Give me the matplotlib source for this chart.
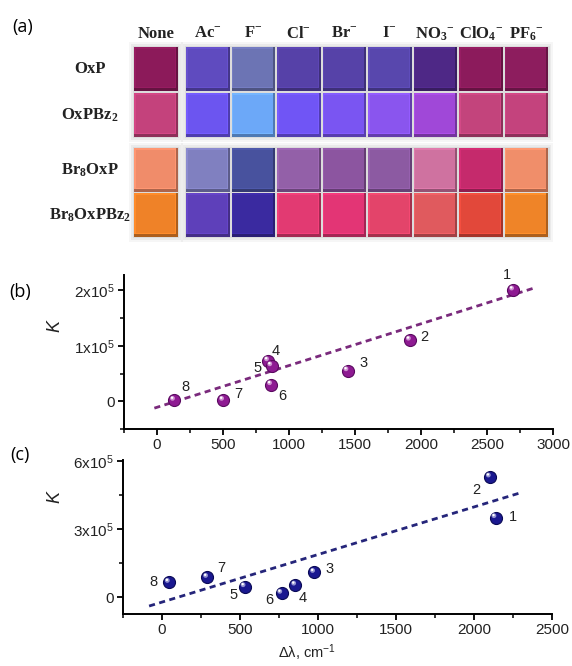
import numpy as np
import matplotlib
matplotlib.use("Agg")
import matplotlib.pyplot as plt
from matplotlib.patches import Rectangle
from matplotlib.ticker import MultipleLocator, FixedLocator
import matplotlib.transforms as mtransforms
import matplotlib.colors as mcolors

plt.rcParams['font.family'] = ['Liberation Sans', 'DejaVu Sans']
plt.rcParams['mathtext.fontset'] = 'custom'
plt.rcParams['mathtext.rm'] = 'Liberation Sans'
plt.rcParams['mathtext.it'] = 'Liberation Sans:italic'
plt.rcParams['mathtext.bf'] = 'Liberation Serif:bold'

# (a) colour table
anions = ["None", r"Ac$^\mathbf{-}$", r"F$^\mathbf{-}$", r"Cl$^\mathbf{-}$", r"Br$^\mathbf{-}$",
          r"I$^\mathbf{-}$", r"NO$_\mathbf{3}$$^\mathbf{-}$", r"ClO$_\mathbf{4}$$^\mathbf{-}$",
          r"PF$_\mathbf{6}$$^\mathbf{-}$"]
compounds = ["OxP", r"OxPBz$_\mathbf{2}$", r"Br$_\mathbf{8}$OxP", r"Br$_\mathbf{8}$OxPBz$_\mathbf{2}$"]
cell_colors = [
    ["#8C1A5A", "#5F4BBF", "#6C74B4", "#5641A8", "#5642A8", "#5847AD", "#4E2886", "#8C1B5C", "#8D1D5E"],
    ["#C4427C", "#6C55F0", "#6CA8F8", "#7055F5", "#7A55F2", "#8A55EE", "#A048D8", "#C3447C", "#C4437D"],
    ["#F08C6A", "#8080C0", "#48529E", "#9360A8", "#8C55A0", "#8C5AA2", "#CF72A0", "#C52A6C", "#F08E6A"],
    ["#EF8228", "#5E40BA", "#3A2AA0", "#E23A72", "#E33575", "#E3446A", "#E05A5E", "#E2483A", "#EF8428"],
]

# (b) OxPBz2
b_dl = [2700, 1918, 1445, 843, 868, 866, 503, 131]
b_K = [2.0e5, 1.10e5, 0.55e5, 0.73e5, 0.64e5, 0.30e5, 0.02e5, 0.02e5]
b_fit_x = [-20, 2862]
b_fit_y = [-0.12e5, 2.04e5]
b_lab_off = [(-6, 15), (14, 3), (16, 8), (7, 10), (-14, -2), (11, -11), (15, 6), (11, 13)]

# (c) Br8OxPBz2
c_dl = [2138, 2102, 977, 856, 532, 767, 292, 47]
c_K = [3.51e5, 5.30e5, 1.10e5, 0.54e5, 0.47e5, 0.18e5, 0.88e5, 0.66e5]
c_fit_x = [-81, 2298]
c_fit_y = [-0.38e5, 4.61e5]
c_lab_off = [(17, 1), (-14, -13), (15, 3), (7, -13), (-11, -8), (-12, -7), (14, 9), (-16, 0)]
point_labels = ["1", "2", "3", "4", "5", "6", "7", "8"]

W, H = 572, 666
fig = plt.figure(figsize=(W / 100, H / 100), dpi=100)

# background axes in pixel coordinates for panel (a)
bg = fig.add_axes([0, 0, 1, 1], zorder=0)
bg.set_xlim(0, W)
bg.set_ylim(H, 0)
bg.axis('off')

col_left = [134, 186, 231.5, 277, 322.5, 368, 413.5, 459, 504.5]
row_top = [47, 93, 148, 193]
cw, ch = 43.5, 43.5

# soft shadows behind the blocks
for (x0, x1) in [(col_left[0], col_left[0] + cw), (col_left[1], col_left[-1] + cw)]:
    for (y0, y1) in [(row_top[0], row_top[1] + ch), (row_top[2], row_top[3] + ch)]:
        for k, a in [(5, 0.05), (3, 0.07), (1.5, 0.09)]:
            bg.add_patch(Rectangle((x0 - k, y0 - k), x1 - x0 + 2 * k, y1 - y0 + 2 * k,
                                   facecolor='#555555', edgecolor='none', alpha=a))

for i, row in enumerate(cell_colors):
    for j, c in enumerate(row):
        base = np.array(mcolors.to_rgb(c))
        x, y = col_left[j], row_top[i]
        bg.add_patch(Rectangle((x, y), cw, ch, facecolor=base * 0.72, edgecolor='none'))
        bg.add_patch(Rectangle((x, y), cw - 2, ch - 2.5,
                               facecolor=np.clip(base * 1.08, 0, 1), edgecolor='none'))
        bg.add_patch(Rectangle((x + 1.5, y + 1.5), cw - 4, ch - 5, facecolor=base, edgecolor='none'))

for j, lab in enumerate(anions):
    bg.text(col_left[j] + cw / 2, 34, lab, ha='center', va='center', fontsize=12,
            family='Liberation Serif', weight='bold', color='#222222')
for i, lab in enumerate(compounds):
    bg.text(90, row_top[i] + ch / 2, lab, ha='center', va='center', fontsize=12,
            family='Liberation Serif', weight='bold', color='#222222')

bg.text(12, 27, "(a)", fontsize=13, ha='left', va='center', family='Open Sans')
bg.text(9, 292, "(b)", fontsize=13, ha='left', va='center', family='Open Sans')
bg.text(10, 455, "(c)", fontsize=13, ha='left', va='center', family='Open Sans')


def sphere_plot(ax, xs, ys, color, dark, light, fit_x, fit_y, line_color, offsets):
    ax.plot(fit_x, fit_y, ls=(0, (2.2, 1.6)), lw=2, color=line_color, zorder=2)
    ax.scatter(xs, ys, s=75, color=color, edgecolor=dark, linewidth=0.8, zorder=3)
    hl = mtransforms.offset_copy(ax.transData, fig=fig, x=-1.8, y=2.0, units='dots')
    ax.scatter(xs, ys, s=12, color=light, edgecolor='none', alpha=0.85, transform=hl, zorder=4)
    hl2 = mtransforms.offset_copy(ax.transData, fig=fig, x=-2.2, y=2.6, units='dots')
    ax.scatter(xs, ys, s=3, color='white', edgecolor='none', transform=hl2, zorder=5)
    for x, y, t, off in zip(xs, ys, point_labels, offsets):
        ax.annotate(t, (x, y), xytext=off, textcoords='offset pixels', ha='center',
                    va='center', fontsize=10.5, color='#222222')


def style_axes(ax):
    for s in ['top', 'right']:
        ax.spines[s].set_visible(False)
    for s in ['left', 'bottom']:
        ax.spines[s].set_linewidth(1.4)
    ax.tick_params(which='major', direction='out', length=4.5, width=1.3, labelsize=11,
                   pad=2, colors='black', labelcolor='#222222')
    ax.tick_params(which='minor', direction='out', length=2.8, width=1.1)
    ax.patch.set_alpha(0)


# (b)
axb = fig.add_axes([124 / W, 1 - 429.3 / H, (553 - 124) / W, (429.3 - 275) / H], zorder=1)
sphere_plot(axb, b_dl, b_K, '#8E1A92', '#5A0A60', '#D9A6DC', b_fit_x, b_fit_y, '#7A2A7C', b_lab_off)
axb.set_xlim(-250, 3000)
axb.set_ylim(-0.5e5, 2.27e5)
axb.xaxis.set_major_locator(MultipleLocator(500))
axb.xaxis.set_minor_locator(MultipleLocator(250))
axb.yaxis.set_major_locator(FixedLocator([0, 1e5, 2e5]))
axb.yaxis.set_minor_locator(MultipleLocator(0.5e5))
axb.set_yticklabels(["0", r"1x10$^\mathrm{5}$", r"2x10$^\mathrm{5}$"])
style_axes(axb)
fig.text(55 / W, 1 - 326 / H, "K", fontsize=13, style='italic', rotation=90,
         ha='center', va='center', color='#222222')

# (c)
axc = fig.add_axes([122.7 / W, 1 - 614 / H, (552.3 - 122.7) / W, (614 - 460) / H], zorder=1)
sphere_plot(axc, c_dl, c_K, '#1A1890', '#0A0A55', '#A8A8DC', c_fit_x, c_fit_y, '#25257A', c_lab_off)
axc.set_xlim(-250, 2500)
axc.set_ylim(-0.73e5, 6.05e5)
axc.xaxis.set_major_locator(MultipleLocator(500))
axc.xaxis.set_minor_locator(MultipleLocator(250))
axc.yaxis.set_major_locator(FixedLocator([0, 3e5, 6e5]))
axc.yaxis.set_minor_locator(MultipleLocator(1.5e5))
axc.set_yticklabels(["0", r"3x10$^\mathrm{5}$", r"6x10$^\mathrm{5}$"])
style_axes(axc)
fig.text(55 / W, 1 - 497 / H, "K", fontsize=13, style='italic', rotation=90,
         ha='center', va='center', color='#222222')
fig.text(307 / W, 1 - 663 / H, r"Δλ, cm$^\mathrm{-1}$", fontsize=10.5, ha='center',
         va='bottom', color='#222222')

fig.savefig("out.png", dpi=100)
